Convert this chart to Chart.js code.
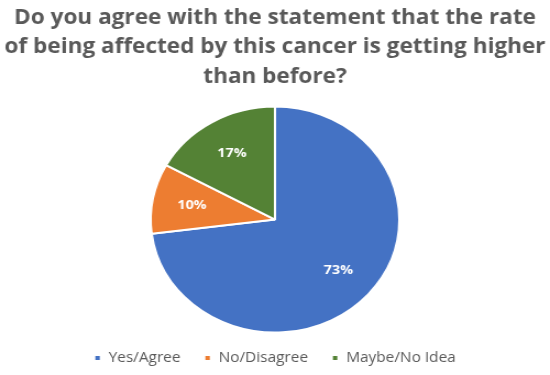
<!DOCTYPE html>
<html><head><meta charset="utf-8">
<script src="https://cdn.jsdelivr.net/npm/chart.js@4/dist/chart.umd.min.js"></script>
<style>
html,body{margin:0;padding:0;background:#fff;overflow:hidden;}
#wrap{width:500px;height:375px;transform:scaleX(1.1);transform-origin:0 0;}
</style></head>
<body>
<div id="wrap"><canvas id="c" width="500" height="375"></canvas></div>
<script>
const titleLines = ["Do you agree with the statement that the rate", "of being affected by this cancer is getting higher", "than before?"];
const categories = ["Yes/Agree", "No/Disagree", "Maybe/No Idea"];
const values = [73, 10, 17];
const colors = ["#4472C4", "#ED7D31", "#548235"];

const labelPlugin = {
  id: 'pctLabels',
  afterDatasetsDraw(chart) {
    const ctx = chart.ctx;
    const meta = chart.getDatasetMeta(0);
    ctx.save();
    ctx.fillStyle = '#ffffff';
    ctx.font = 'bold 13px "Open Sans"';
    ctx.textAlign = 'center';
    ctx.textBaseline = 'middle';
    meta.data.forEach((arc, i) => {
      const p = arc.getProps(['x','y','startAngle','endAngle','outerRadius'], true);
      const mid = (p.startAngle + p.endAngle) / 2;
      const r = p.outerRadius * 0.68;
      ctx.fillText(values[i] + '%', p.x + Math.cos(mid) * r, p.y + Math.sin(mid) * r);
    });
    ctx.restore();
  }
};

new Chart(document.getElementById('c'), {
  type: 'pie',
  data: {
    labels: categories,
    datasets: [{ data: values, backgroundColor: colors, borderColor: '#ffffff', borderWidth: 2, radius: 113 }]
  },
  options: {
    responsive: false,
    animation: false,
    layout: { padding: 0 },
    plugins: {
      tooltip: { enabled: false },
      title: {
        display: true,
        text: titleLines,
        color: '#595959',
        font: { family: '"Open Sans"', size: 20.5, weight: 'bold', lineHeight: 1.45 },
        padding: { top: 3, bottom: 7 }
      },
      legend: {
        position: 'bottom',
        labels: {
          color: '#595959',
          font: { family: '"Open Sans"', size: 14 },
          boxWidth: 6, boxHeight: 6,
          padding: 11,
          generateLabels(chart) {
            const items = Chart.overrides.pie.plugins.legend.labels.generateLabels(chart);
            items.forEach((it, i) => { if (i < items.length - 1) it.text = it.text + '\u2002 '; });
            return items;
          }
        }
      }
    }
  },
  plugins: [labelPlugin]
});
</script>
</body></html>
